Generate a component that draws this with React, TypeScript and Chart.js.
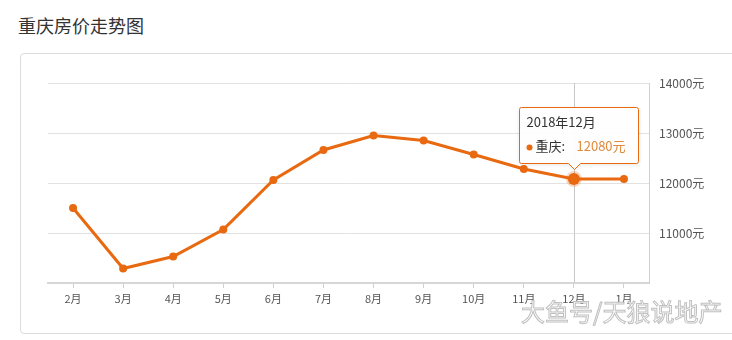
import React, { useEffect, useRef } from "react";
import { Chart, registerables } from "chart.js";

Chart.register(...registerables);

const categories = ["2月", "3月", "4月", "5月", "6月", "7月", "8月", "9月", "10月", "11月", "12月", "1月"];
const prices = [11500, 10290, 10530, 11070, 12060, 12660, 12950, 12850, 12570, 12280, 12080, 12080];
const seriesName = "重庆";
const tooltipTitle = "2018年12月";
const activeIndex = 10;
const yTicks = [10000, 11000, 12000, 13000, 14000];

const ORANGE = "#E8690F";
const FONT = "'Noto Sans CJK SC', 'Noto Sans', sans-serif";

const overlayPlugin = {
  id: "overlay",
  beforeDatasetsDraw(chart: any) {
    const meta = chart.getDatasetMeta(0);
    const pt = meta.data[activeIndex];
    if (!pt) return;
    const { ctx, chartArea } = chart;
    ctx.save();
    ctx.strokeStyle = "#c8c8c8";
    ctx.lineWidth = 1;
    ctx.beginPath();
    const x = Math.round(pt.x) + 0.5;
    ctx.moveTo(x, chartArea.top);
    ctx.lineTo(x, chartArea.bottom);
    ctx.stroke();
    ctx.restore();
  },
  afterDraw(chart: any) {
    const meta = chart.getDatasetMeta(0);
    const pt = meta.data[activeIndex];
    if (!pt) return;
    const { ctx } = chart;
    const w = 119;
    const h = 56;
    const left = Math.round(pt.x) - 55 + 0.5;
    const bottom = Math.round(pt.y) - 16 + 0.5;
    const top = bottom - h;
    const cx = Math.round(pt.x) + 0.5;
    ctx.save();
    ctx.shadowColor = "rgba(0,0,0,0.12)";
    ctx.shadowBlur = 4;
    ctx.shadowOffsetY = 1;
    ctx.fillStyle = "rgba(255,255,255,0.95)";
    ctx.strokeStyle = ORANGE;
    ctx.lineWidth = 1;
    ctx.beginPath();
    ctx.moveTo(left + 2, top);
    ctx.lineTo(left + w - 2, top);
    ctx.quadraticCurveTo(left + w, top, left + w, top + 2);
    ctx.lineTo(left + w, bottom - 2);
    ctx.quadraticCurveTo(left + w, bottom, left + w - 2, bottom);
    ctx.lineTo(cx + 6, bottom);
    ctx.lineTo(cx, bottom + 6);
    ctx.lineTo(cx - 6, bottom);
    ctx.lineTo(left + 2, bottom);
    ctx.quadraticCurveTo(left, bottom, left, bottom - 2);
    ctx.lineTo(left, top + 2);
    ctx.quadraticCurveTo(left, top, left + 2, top);
    ctx.closePath();
    ctx.fill();
    ctx.shadowColor = "transparent";
    ctx.stroke();

    ctx.textBaseline = "middle";
    ctx.textAlign = "left";
    ctx.font = `13px ${FONT}`;
    ctx.fillStyle = "#333";
    ctx.fillText(tooltipTitle, left + 7, top + 15);

    const rowY = top + 39;
    ctx.fillStyle = ORANGE;
    ctx.beginPath();
    ctx.arc(left + 10, rowY + 1, 3, 0, Math.PI * 2);
    ctx.fill();
    ctx.font = `13px ${FONT}`;
    ctx.fillStyle = "#333";
    ctx.fillText(seriesName + ":", left + 16, rowY);
    ctx.fillStyle = "#E2893A";
    ctx.fillText(prices[activeIndex] + "元", left + 57, rowY);
    ctx.restore();
  },
};

export default function App() {
  const canvasRef = useRef<HTMLCanvasElement | null>(null);

  useEffect(() => {
    if (!canvasRef.current) return;
    const chart = new Chart(canvasRef.current, {
      type: "line",
      data: {
        labels: categories,
        datasets: [
          {
            label: seriesName,
            data: prices,
            borderColor: ORANGE,
            backgroundColor: ORANGE,
            borderWidth: 3,
            tension: 0,
            pointRadius: (c: any) => (c.dataIndex === activeIndex ? 6 : 4),
            pointBorderWidth: (c: any) => (c.dataIndex === activeIndex ? 4 : 0),
            pointBorderColor: (c: any) => (c.dataIndex === activeIndex ? "rgba(232,105,15,0.25)" : ORANGE),
            pointBackgroundColor: ORANGE,
          },
        ],
      },
      options: {
        responsive: false,
        animation: false,
        events: [],
        layout: { padding: { left: 48, top: 83, right: 0, bottom: 0 } },
        plugins: {
          legend: { display: false },
          tooltip: { enabled: false },
        },
        scales: {
          x: {
            offset: true,
            grid: {
              offset: false,
              drawOnChartArea: false,
              drawTicks: true,
              tickLength: 5,
              color: "#d0d0d0",
            },
            border: { display: true, color: "#d6d6d6", width: 2 },
            ticks: {
              color: "#555",
              font: { family: FONT, size: 11 },
              padding: 4,
              maxRotation: 0,
              autoSkip: false,
            },
            afterFit: (s: any) => {
              s.height = 57;
            },
          },
          y: {
            position: "right",
            min: 10000,
            max: 14000,
            afterBuildTicks: (s: any) => {
              s.ticks = yTicks.map((v) => ({ value: v }));
            },
            grid: { color: "#e2e2e2", drawTicks: false, lineWidth: 1 },
            border: { display: true, color: "#d0d0d0", width: 1 },
            ticks: {
              color: "#555",
              font: { family: FONT, size: 12 },
              padding: 10,
              callback: (v: any) => (Number(v) === 10000 ? "" : v + "元"),
            },
            afterFit: (s: any) => {
              s.width = 83;
            },
          },
        },
      },
      plugins: [overlayPlugin],
    });
    return () => chart.destroy();
  }, []);

  return (
    <div
      style={{
        position: "fixed",
        left: 0,
        top: 0,
        width: 732,
        height: 340,
        background: "#fff",
        overflow: "hidden",
        fontFamily: FONT,
      }}
    >
      <div
        style={{
          position: "absolute",
          left: 18,
          top: 13,
          fontSize: 18,
          lineHeight: "24px",
          color: "#333",
        }}
      >
        重庆房价走势图
      </div>
      <div
        style={{
          position: "absolute",
          left: 20,
          top: 53,
          width: 760,
          height: 281,
          border: "1px solid #dcdcdc",
          borderRadius: 4,
          boxSizing: "border-box",
        }}
      />
      <canvas
        ref={canvasRef}
        width={732}
        height={340}
        style={{ position: "absolute", left: 0, top: 0, width: 732, height: 340 }}
      />
      <div
        style={{
          position: "absolute",
          left: 521,
          top: 297,
          fontSize: 24,
          lineHeight: "28px",
          color: "#fff",
          WebkitTextStroke: "1px #c0c0c0",
          letterSpacing: 0,
          whiteSpace: "nowrap",
        }}
      >
        大鱼号/天狼说地产
      </div>
    </div>
  );
}
